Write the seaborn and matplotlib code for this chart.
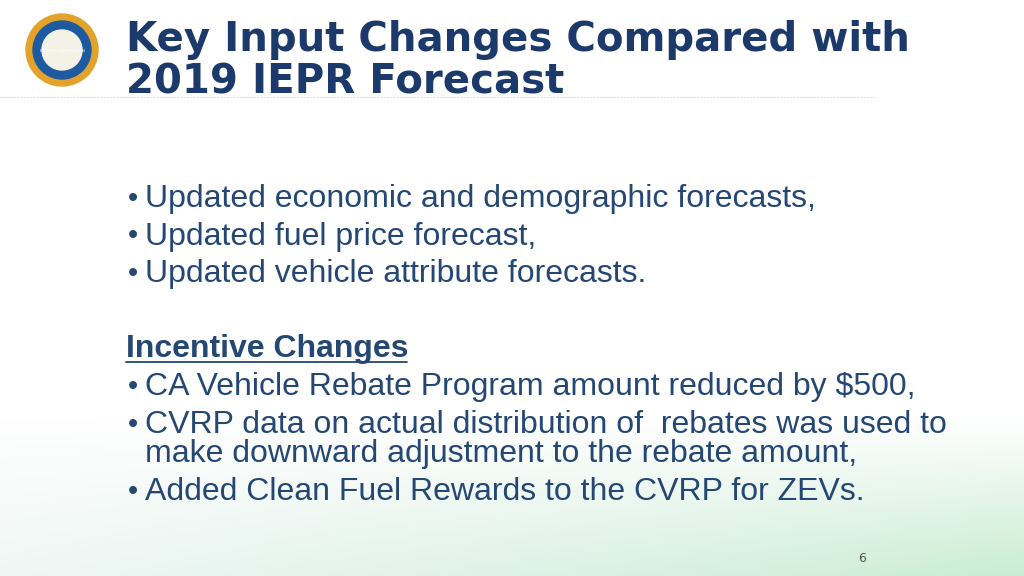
import matplotlib
matplotlib.use("Agg")
import matplotlib.pyplot as plt
import seaborn as sns
import numpy as np
from matplotlib.patches import Circle

title_lines = ["Key Input Changes Compared with", "2019 IEPR Forecast"]
bullets1 = ["Updated economic and demographic forecasts,",
            "Updated fuel price forecast,",
            "Updated vehicle attribute forecasts."]
heading2 = "Incentive Changes"
bullets2 = [["CA Vehicle Rebate Program amount reduced by $500,"],
            ["CVRP data on actual distribution of  rebates was used to",
             "make downward adjustment to the rebate amount,"],
            ["Added Clean Fuel Rewards to the CVRP for ZEVs."]]
page_no = "6"

sns.set_style("white")
fig = plt.figure(figsize=(10.24, 5.76), dpi=100)
ax = fig.add_axes([0, 0, 1, 1])
ax.set_xlim(0, 1024); ax.set_ylim(576, 0); ax.axis("off")

H = 200
grad = np.zeros((H, 1024, 4))
yy = np.linspace(0, 1, H)[:, None]
xx = np.linspace(0, 1, 1024)[None, :]
alpha = np.clip((yy - 0.2) / 0.8, 0, 1) * (0.25 + 0.35 * xx)
grad[..., 0] = 0.75 - 0.1 * xx
grad[..., 1] = 0.88
grad[..., 2] = 0.85 - 0.15 * xx
grad[..., 3] = alpha
ax.imshow(grad, extent=(0, 1024, 576, 576 - H), aspect="auto", zorder=0)

ax.add_patch(Circle((62, 50), 36, color="#e3a32a", zorder=2))
ax.add_patch(Circle((62, 50), 29, color="#1d5aa0", zorder=3))
ax.add_patch(Circle((62, 50), 20, color="#f4f1e6", zorder=4))
ax.text(62, 52, "ENERGY COMMISSION", fontsize=3, color="white", ha="center", zorder=5)

tc = "#1b3a6b"
for yv, t in zip([40, 83], title_lines):
    ax.text(126, yv, t, fontsize=29, fontweight="bold", color=tc,
            family="DejaVu Sans", va="center")
ax.plot([0, 875], [97, 97], ls=(0, (2, 2)), color="#cccccc", lw=0.6)

bc = "#244774"
fs = 23
y = 199
for b in bullets1:
    ax.text(128, y, "•", fontsize=fs - 2, color=bc, family="Liberation Sans", va="center")
    ax.text(145, y, b, fontsize=fs, color=bc, family="Liberation Sans", va="center")
    y += 37.5
ax.text(126, 349, heading2, fontsize=fs, fontweight="bold", color=bc,
        family="Liberation Sans", va="center")
ax.plot([126, 407], [362, 362], color=bc, lw=1.3)
y = 387
for lines in bullets2:
    ax.text(128, y, "•", fontsize=fs - 2, color=bc, family="Liberation Sans", va="center")
    for i, l in enumerate(lines):
        ax.text(145, y, l, fontsize=fs, color=bc, family="Liberation Sans", va="center")
        if i < len(lines) - 1:
            y += 29
    y += 38
ax.text(862, 558, page_no, fontsize=9, color="#555555", ha="center", va="center")

fig.savefig("out.png", dpi=100)
